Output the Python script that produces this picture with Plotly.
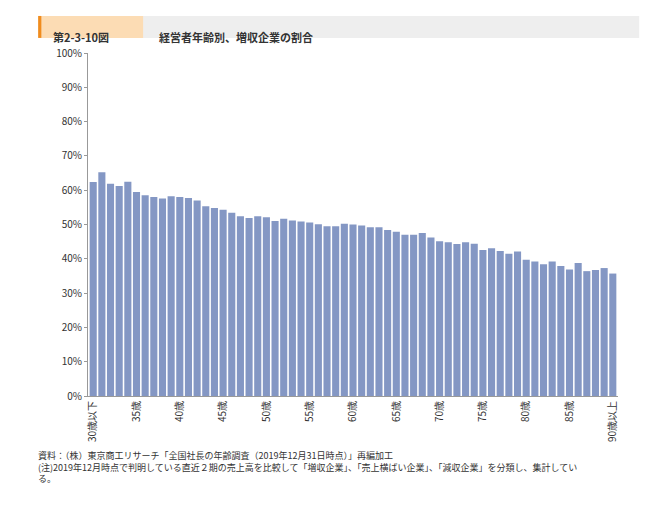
import plotly.graph_objects as go

# Data
AGES = ["30歳以下"] + [f"{a}歳" for a in range(31, 90)] + ["90歳以上"]
RATES = [62.4, 65.2, 61.9, 61.2, 62.5, 59.5, 58.5, 58.0, 57.6, 58.2,
         58.0, 57.7, 57.0, 55.3, 54.8, 54.3, 53.4, 52.4, 51.9, 52.4,
         52.1, 51.0, 51.7, 51.2, 50.9, 50.6, 50.1, 49.5, 49.5, 50.2,
         50.0, 49.7, 49.2, 49.2, 48.4, 47.9, 47.0, 47.0, 47.5, 46.2,
         45.1, 44.8, 44.3, 44.8, 44.4, 42.6, 43.1, 42.3, 41.5, 42.1,
         39.7, 39.2, 38.4, 39.2, 37.9, 36.9, 38.8, 36.4, 36.7, 37.3, 35.7]
TICK_LABELS = ["30歳以下", "35歳", "40歳", "45歳", "50歳", "55歳", "60歳",
               "65歳", "70歳", "75歳", "80歳", "85歳", "90歳以上"]

FONT = "Noto Sans CJK JP"
W, H = 650, 509

fig = go.Figure(go.Bar(x=AGES, y=RATES, marker=dict(color="#8497c4", line=dict(width=0)),
                       width=0.82))

fig.update_layout(
    width=W, height=H, plot_bgcolor="white", paper_bgcolor="white",
    font=dict(family=FONT, size=10, color="#333"),
    margin=dict(l=80, r=40, t=45, b=121, autoexpand=False),
    showlegend=False,
)
fig.update_xaxes(tickmode="array", tickvals=TICK_LABELS, ticktext=TICK_LABELS,
                 tickangle=-90, showline=True, linecolor="#999", ticks="",
                 tickfont=dict(size=10), range=[-0.6, 60.6], automargin=False)
fig.update_yaxes(range=[0, 100], dtick=10, ticksuffix="%", showgrid=False,
                 showline=True, linecolor="#999", ticks="outside", ticklen=3,
                 tickcolor="#999", tickfont=dict(size=10), automargin=False)

# Header: orange label + grey title band
fig.add_shape(type="rect", xref="paper", yref="paper", x0=-0.094, x1=1.04,
              y0=1.044, y1=1.108, fillcolor="#eeeeee", line_width=0)
fig.add_shape(type="rect", xref="paper", yref="paper", x0=-0.094, x1=0.104,
              y0=1.044, y1=1.108, fillcolor="#fcdcb4", line_width=0)
fig.add_shape(type="rect", xref="paper", yref="paper", x0=-0.094, x1=-0.088,
              y0=1.044, y1=1.108, fillcolor="#f08c1e", line_width=0)
fig.add_annotation(xref="paper", yref="paper", x=-0.07, y=1.076, xanchor="left",
                   text="<b>第2-3-10図</b>", showarrow=False, font=dict(size=11, color="#333"))
fig.add_annotation(xref="paper", yref="paper", x=0.13, y=1.076, xanchor="left",
                   text="<b>経営者年齢別、増収企業の割合</b>", showarrow=False,
                   font=dict(size=11, color="#333"))

# Footnotes
notes = ("資料：（株）東京商工リサーチ「全国社長の年齢調査（2019年12月31日時点）」再編加工<br>"
         "(注)2019年12月時点で判明している直近２期の売上高を比較して「増収企業」、「売上横ばい企業」、「減収企業」を分類し、集計してい<br>"
         "る。")
fig.add_annotation(xref="paper", yref="paper", x=-0.098, y=-0.15, xanchor="left",
                   yanchor="top", align="left", text=notes, showarrow=False,
                   font=dict(size=9, color="#333"))

fig.write_html("out.html")
